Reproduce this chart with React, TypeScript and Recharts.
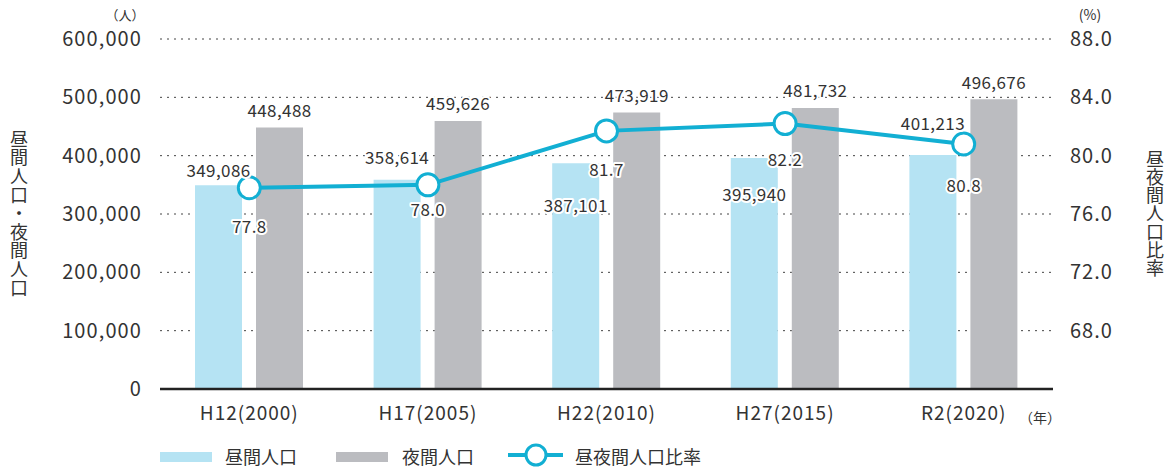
import React from 'react';
import { ComposedChart, Bar, Line, XAxis, YAxis, CartesianGrid, Legend, LabelList } from 'recharts';

const categories = ['H12(2000)', 'H17(2005)', 'H22(2010)', 'H27(2015)', 'R2(2020)'];
const daytimePop = [349086, 358614, 387101, 395940, 401213];
const nighttimePop = [448488, 459626, 473919, 481732, 496676];
const dayNightRatio = [77.8, 78.0, 81.7, 82.2, 80.8];
const leftTicks = [0, 100000, 200000, 300000, 400000, 500000, 600000];
const rightTicks = [68, 72, 76, 80, 84, 88];

const data = categories.map((c, i) => ({
  name: c,
  day: daytimePop[i],
  night: nighttimePop[i],
  ratio: dayNightRatio[i],
}));

const FONT = "'Noto Sans CJK JP', 'Noto Sans', sans-serif";
const TEXT = '#333333';
const BLUE_BAR = '#b5e3f3';
const GRAY_BAR = '#bbbcc0';
const LINE = '#12afd3';

// label placement styling (offsets of text centre from mark)
const DAY_LABEL_DY = [-16, -23, 41, 35, -32];
const RATIO_LABEL_DY = [38, 24, 38, 35, 40];

const fmt = (v: number) => v.toLocaleString('en-US');

const haloText = (x: number, y: number, s: string, size: number) => (
  <text
    x={x}
    y={y}
    textAnchor="middle"
    dominantBaseline="central"
    fontSize={size}
    letterSpacing={0.4}
    fill={TEXT}
    stroke="#ffffff"
    strokeWidth={4}
    strokeLinejoin="round"
    paintOrder="stroke"
    fontFamily={FONT}
  >
    {s}
  </text>
);

const DayLabel = (p: any) => {
  const i = p.index ?? 0;
  return haloText(p.x + p.width / 2, p.y + DAY_LABEL_DY[i], fmt(p.value), 17);
};
const NightLabel = (p: any) => haloText(p.x + p.width / 2, p.y - 18, fmt(p.value), 17);
const RatioLabel = (p: any) => {
  const i = p.index ?? 0;
  return haloText(p.x, p.y + RATIO_LABEL_DY[i], Number(p.value).toFixed(1), 17);
};

const verticalTitle = (s: string, x: number, yTop: number, spacing: number) => (
  <text
    x={x}
    y={yTop}
    fontSize={18}
    fill={TEXT}
    fontFamily={FONT}
    letterSpacing={spacing}
    style={{ writingMode: 'vertical-rl', textOrientation: 'upright' } as any}
  >
    {s}
  </text>
);

const LeftTitle = () => (
  <g>
    {verticalTitle('昼間人口・夜間人口', 19, 130, 0.6)}
    <text x={125} y={14} textAnchor="middle" dominantBaseline="central" fontSize={13} fill={TEXT} fontFamily={FONT}>
      （人）
    </text>
  </g>
);
const RightTitle = () => (
  <g>
    {verticalTitle('昼夜間人口比率', 1155, 150, 0.2)}
    <text x={1090} y={14} textAnchor="middle" dominantBaseline="central" fontSize={14} fill={TEXT} fontFamily={FONT}>
      (%)
    </text>
  </g>
);
const XUnit = () => (
  <text x={1040} y={417} textAnchor="middle" dominantBaseline="central" fontSize={14} fill={TEXT} fontFamily={FONT}>
    （年）
  </text>
);

const LegendContent = () => (
  <div style={{ position: 'relative', width: 1172, height: 32, fontFamily: FONT, color: TEXT, fontSize: 18 }}>
    <div style={{ position: 'absolute', left: 160, top: 17, width: 52, height: 10, background: BLUE_BAR }} />
    <div style={{ position: 'absolute', left: 225, top: 10, lineHeight: '22px' }}>昼間人口</div>
    <div style={{ position: 'absolute', left: 336, top: 17, width: 52, height: 10, background: GRAY_BAR }} />
    <div style={{ position: 'absolute', left: 402, top: 10, lineHeight: '22px' }}>夜間人口</div>
    <svg style={{ position: 'absolute', left: 506, top: 8 }} width={60} height={24}>
      <line x1={2} y1={12} x2={57} y2={12} stroke={LINE} strokeWidth={4} />
      <circle cx={30} cy={12} r={10} fill="#fff" stroke={LINE} strokeWidth={3} />
    </svg>
    <div style={{ position: 'absolute', left: 575, top: 10, lineHeight: '22px' }}>昼夜間人口比率</div>
  </div>
);

export default function App() {
  return (
    <div style={{ position: 'absolute', left: 0, top: 0, width: 1172, height: 467, fontFamily: FONT, background: '#fff' }}>
      <ComposedChart
        width={1172}
        height={467}
        data={data}
        margin={{ top: 39, right: 0, bottom: 0, left: 0 }}
        barSize={47}
        barGap={14}
      >
        <CartesianGrid yAxisId="left" vertical={false} stroke="#444" strokeDasharray="2 5" />
        <XAxis
          dataKey="name"
          height={46}
          tickLine={false}
          axisLine={{ stroke: '#222', strokeWidth: 2.5 }}
          tick={{ fontSize: 19, fill: TEXT, fontFamily: FONT, letterSpacing: 1 }}
          tickMargin={12}
          label={{ content: XUnit } as any}
        />
        <YAxis
          yAxisId="left"
          width={160}
          domain={[0, 600000]}
          ticks={leftTicks}
          tickFormatter={fmt}
          tickLine={false}
          axisLine={false}
          tickMargin={12}
          tick={{ fontSize: 20, fill: TEXT, fontFamily: FONT, letterSpacing: 1.1 }}
          label={{ content: LeftTitle } as any}
        />
        <YAxis
          yAxisId="right"
          orientation="right"
          width={119}
          domain={[64, 88]}
          ticks={rightTicks}
          tickFormatter={(v: number) => v.toFixed(1)}
          tickLine={false}
          axisLine={false}
          tickMargin={11}
          tick={{ fontSize: 20, fill: TEXT, fontFamily: FONT, textAnchor: 'start', letterSpacing: 1 }}
          label={{ content: RightTitle } as any}
        />
        <Legend verticalAlign="bottom" height={32} content={LegendContent} wrapperStyle={{ left: 0, width: 1172 }} />
        <Bar yAxisId="left" dataKey="day" name="昼間人口" fill={BLUE_BAR} isAnimationActive={false}>
          <LabelList dataKey="day" content={DayLabel} />
        </Bar>
        <Bar yAxisId="left" dataKey="night" name="夜間人口" fill={GRAY_BAR} isAnimationActive={false}>
          <LabelList dataKey="night" content={NightLabel} />
        </Bar>
        <Line
          yAxisId="right"
          dataKey="ratio"
          name="昼夜間人口比率"
          stroke={LINE}
          strokeWidth={4}
          dot={{ r: 11, fill: '#fff', stroke: LINE, strokeWidth: 3 }}
          activeDot={false}
          isAnimationActive={false}
        >
          <LabelList dataKey="ratio" content={RatioLabel} />
        </Line>
      </ComposedChart>
    </div>
  );
}
